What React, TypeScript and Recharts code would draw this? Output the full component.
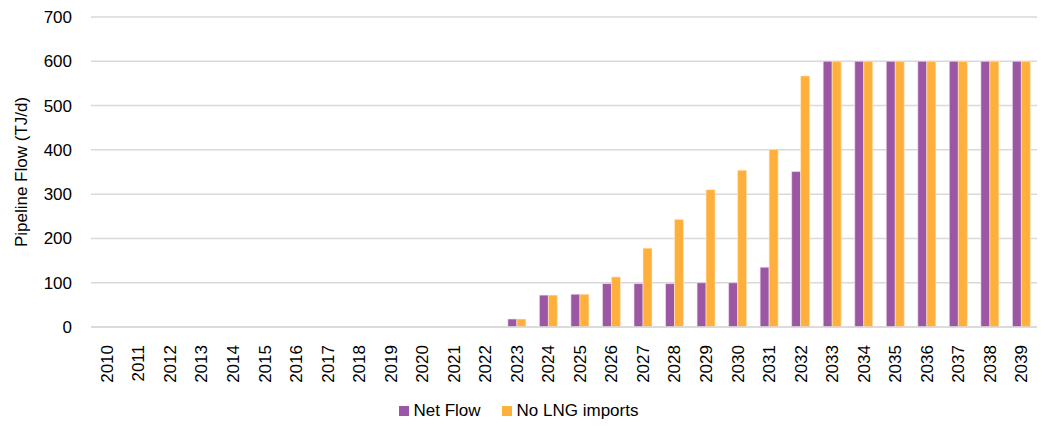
import React from 'react';
import {
  BarChart,
  Bar,
  XAxis,
  YAxis,
  CartesianGrid,
  Legend,
} from 'recharts';

const years = [
  '2010', '2011', '2012', '2013', '2014', '2015', '2016', '2017', '2018', '2019',
  '2020', '2021', '2022', '2023', '2024', '2025', '2026', '2027', '2028', '2029',
  '2030', '2031', '2032', '2033', '2034', '2035', '2036', '2037', '2038', '2039',
];

const netFlow = [
  0, 0, 0, 0, 0, 0, 0, 0, 0, 0,
  0, 0, 0, 18, 72, 74, 98, 98, 98, 100,
  100, 135, 351, 600, 600, 600, 600, 600, 600, 600,
];

const noLngImports = [
  0, 0, 0, 0, 0, 0, 0, 0, 0, 0,
  0, 0, 0, 18, 72, 74, 113, 178, 243, 310,
  354, 401, 567, 600, 600, 600, 600, 600, 600, 600,
];

const yTicks = [0, 100, 200, 300, 400, 500, 600, 700];

const data = years.map((year, i) => ({
  year,
  net: netFlow[i],
  noLng: noLngImports[i],
}));

const PURPLE = '#9C57A4';
const ORANGE = '#FFB03C';
const GRID = '#d9d9d9';
const FONT = 17;

const YearTick = (props: any) => {
  const { x, y, payload } = props;
  return (
    <text
      x={x}
      y={y}
      transform={`rotate(-90, ${x}, ${y})`}
      textAnchor="end"
      dy="0.36em"
      fontSize={FONT}
      fill="#000"
    >
      {payload.value}
    </text>
  );
};

const LegendContent = (props: any) => {
  const { payload } = props;
  return (
    <div style={{ display: 'flex', justifyContent: 'center', alignItems: 'center', height: 24 }}>
      {payload.map((entry: any, i: number) => (
        <div
          key={entry.value}
          style={{ display: 'flex', alignItems: 'center', marginLeft: i === 0 ? 0 : 21 }}
        >
          <span
            style={{
              display: 'inline-block',
              width: 10,
              height: 10,
              background: entry.color,
              marginRight: 5,
            }}
          />
          <span style={{ fontSize: FONT, color: '#000' }}>{entry.value}</span>
        </div>
      ))}
    </div>
  );
};

const App: React.FC = () => {
  return (
    <div
      style={{
        position: 'absolute',
        left: 0,
        top: 0,
        width: 1045,
        height: 429,
        fontFamily: '"Liberation Sans", Arial, sans-serif',
        background: '#fff',
      }}
    >
      <BarChart
        width={1045}
        height={429}
        data={data}
        margin={{ top: 17, right: 8, bottom: 6, left: 0 }}
        barCategoryGap="22%"
        barGap={0}
      >
        <CartesianGrid vertical={false} stroke={GRID} strokeWidth={1.5} />
        <XAxis
          dataKey="year"
          interval={0}
          height={72}
          tickLine={false}
          axisLine={{ stroke: GRID, strokeWidth: 1.5 }}
          tick={<YearTick />}
          tickMargin={12}
        />
        <YAxis
          width={91}
          domain={[0, 700]}
          ticks={yTicks}
          interval={0}
          tickLine={false}
          axisLine={false}
          tickSize={0}
          tickMargin={19}
          tick={{ fontSize: FONT, fill: '#000' }}
          label={{
            value: 'Pipeline Flow (TJ/d)',
            angle: -90,
            position: 'insideLeft',
            dx: 16,
            style: { textAnchor: 'middle', fontSize: FONT, fill: '#000' },
          }}
        />
        <Legend verticalAlign="bottom" align="center" content={<LegendContent />} />
        <Bar
          dataKey="net"
          name="Net Flow"
          fill={PURPLE}
          stroke="#f3e6f3"
          strokeWidth={0.6}
          isAnimationActive={false}
        />
        <Bar
          dataKey="noLng"
          name="No LNG imports"
          fill={ORANGE}
          stroke="#ffe9c4"
          strokeWidth={0.6}
          isAnimationActive={false}
        />
      </BarChart>
    </div>
  );
};

export default App;
